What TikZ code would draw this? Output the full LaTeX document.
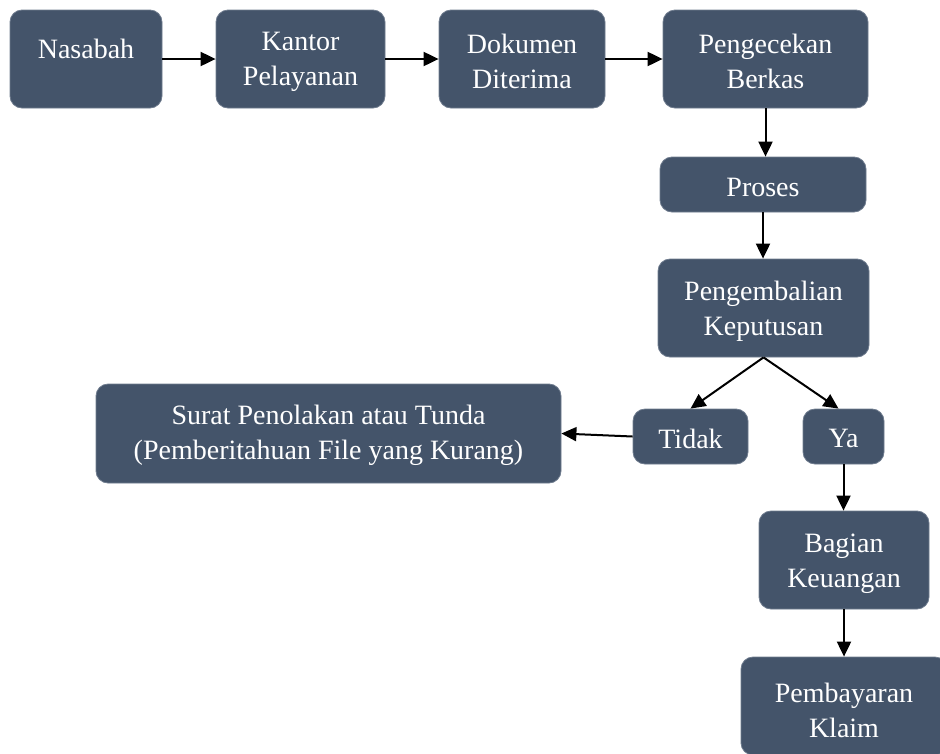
\documentclass[tikz,border=0pt]{standalone}
\usepackage{fontspec}
\setmainfont{Liberation Serif}
\usetikzlibrary{arrows.meta}
\definecolor{slate}{HTML}{44546A}
\definecolor{slateedge}{HTML}{6F7C8E}
\begin{document}
\begin{tikzpicture}[x=1pt,y=-1pt,
  box/.style={draw=slateedge,line width=0.8pt,fill=slate,rounded corners=12pt,inner sep=0pt},
  txt/.style={text=white,font=\fontsize{28}{35}\selectfont,align=center,inner sep=0pt},
  arr/.style={-{Triangle[length=15pt,width=14pt]},line width=2pt,black}]
\useasboundingbox (0,0) rectangle (940,753);
\clip (0,0) rectangle (940,753);
\node[box,minimum width=152pt,minimum height=98pt] (n1) at (86,59) {};
\node[box,minimum width=169pt,minimum height=98pt] (n2) at (300.5,59) {};
\node[box,minimum width=166pt,minimum height=98pt] (n3) at (522,59) {};
\node[box,minimum width=205pt,minimum height=98pt] (n4) at (765.5,59) {};
\node[box,minimum width=206pt,minimum height=55pt] (n5) at (763,184.5) {};
\node[box,minimum width=211pt,minimum height=98pt] (n6) at (763.5,308) {};
\node[box,minimum width=115pt,minimum height=55pt] (n7) at (690.5,436.5) {};
\node[box,minimum width=81pt,minimum height=55pt] (n8) at (843.5,436.5) {};
\node[box,minimum width=465pt,minimum height=99pt] (n9) at (328.5,433.5) {};
\node[box,minimum width=170pt,minimum height=98pt] (n10) at (844,560) {};
\node[box,minimum width=206pt,minimum height=98pt] (n11) at (844,706) {};
\node[txt] (t1) at (86,49) {Nasabah};
\node[txt] (t2) at ([yshift=-3pt]n2) {Kantor\\Pelayanan};
\node[txt] (t3) at ([yshift=-2pt]n3) {Dokumen\\Diterima};
\node[txt] (t4) at ([yshift=-2pt]n4) {Pengecekan\\Berkas};
\node[txt] (t5) at ([yshift=-3pt]n5) {Proses};
\node[txt] (t6) at ([yshift=-3pt]n6) {Pengembalian\\Keputusan};
\node[txt] (t7) at ([yshift=-2pt]n7) {Tidak};
\node[txt] (t8) at ([yshift=-2pt]n8) {Ya};
\node[txt] (t9) at ([yshift=-2pt]n9) {Surat Penolakan atau Tunda\\(Pemberitahuan File yang Kurang)};
\node[txt] (t10) at ([yshift=-4pt]n10) {Bagian\\Keuangan};
\node[txt] (t11) at ([yshift=-4pt]n11) {Pembayaran\\Klaim};
\draw[arr] (n1.east) -- (n2.west);
\draw[arr] (n2.east) -- (n3.west);
\draw[arr] (n3.east) -- (n4.west);
\draw[arr] (n4.south) -- (n4.south |- n5.north);
\draw[arr] (n5.south) -- (n5.south |- n6.north);
\draw[arr] (n6.south) -- (n7.north);
\draw[arr] (n6.south) -- ([xshift=-5pt]n8.north);
\draw[arr] (n7.west) -- (n9.east);
\draw[arr] (n8.south) -- (n8.south |- n10.north);
\draw[arr] (n10.south) -- (n10.south |- n11.north);
\end{tikzpicture}
\end{document}
